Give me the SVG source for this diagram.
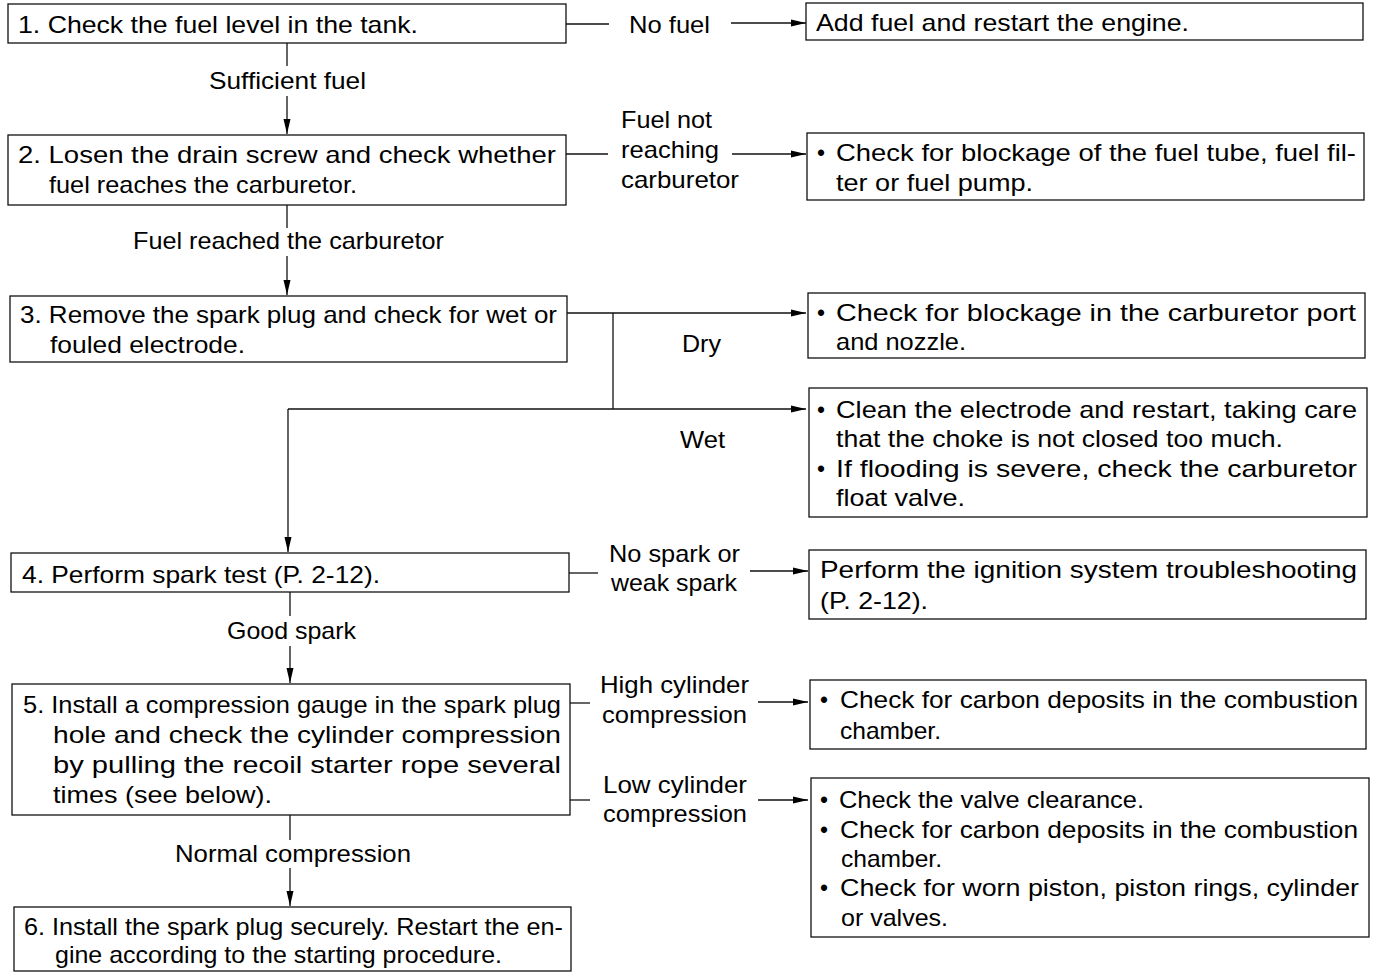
<svg xmlns="http://www.w3.org/2000/svg" width="1379" height="973" viewBox="0 0 1379 973">
<style>
text{font-family:"Liberation Sans","Arial",sans-serif;font-size:24px;fill:#000}
rect{fill:#fff;stroke:#111;stroke-width:1.3}
.c line{stroke:#111;stroke-width:1.3}
</style>
<defs>
<marker id="ah" markerUnits="userSpaceOnUse" markerWidth="16" markerHeight="8" refX="15" refY="4" orient="auto">
<path d="M0,0.5 L15,4 L0,7.5 z" fill="#000"/>
</marker>
</defs>
<rect x="0" y="0" width="1379" height="973" style="stroke:none;fill:#fff"/>
<g class="c" id="connectors">
<line x1="566" y1="24" x2="609" y2="24"/>
<line x1="731" y1="23" x2="806" y2="23" marker-end="url(#ah)"/>
<line x1="287" y1="43" x2="287" y2="66"/>
<line x1="287" y1="96" x2="287" y2="134" marker-end="url(#ah)"/>
<line x1="566" y1="154" x2="608" y2="154"/>
<line x1="732" y1="154" x2="806" y2="154" marker-end="url(#ah)"/>
<line x1="287" y1="205" x2="287" y2="228"/>
<line x1="287" y1="256" x2="287" y2="295" marker-end="url(#ah)"/>
<line x1="567" y1="313" x2="806" y2="313" marker-end="url(#ah)"/>
<line x1="613" y1="313" x2="613" y2="409"/>
<line x1="288" y1="409" x2="806" y2="409" marker-end="url(#ah)"/>
<line x1="288" y1="409" x2="288" y2="552" marker-end="url(#ah)"/>
<line x1="569" y1="573" x2="598" y2="573"/>
<line x1="750" y1="571" x2="808" y2="571" marker-end="url(#ah)"/>
<line x1="290" y1="592" x2="290" y2="616"/>
<line x1="290" y1="646" x2="290" y2="683" marker-end="url(#ah)"/>
<line x1="570" y1="703" x2="590" y2="703"/>
<line x1="758" y1="702" x2="808" y2="702" marker-end="url(#ah)"/>
<line x1="570" y1="800" x2="590" y2="800"/>
<line x1="758" y1="800" x2="808" y2="800" marker-end="url(#ah)"/>
<line x1="290" y1="815" x2="290" y2="840"/>
<line x1="290" y1="868" x2="290" y2="906" marker-end="url(#ah)"/>
<text x="629" y="33" textLength="81" lengthAdjust="spacingAndGlyphs">No fuel</text>
<text x="209" y="89" textLength="157" lengthAdjust="spacingAndGlyphs">Sufficient fuel</text>
<text x="621" y="128" textLength="91" lengthAdjust="spacingAndGlyphs">Fuel not</text>
<text x="621" y="158" textLength="98" lengthAdjust="spacingAndGlyphs">reaching</text>
<text x="621" y="188" textLength="118" lengthAdjust="spacingAndGlyphs">carburetor</text>
<text x="133" y="249" textLength="311" lengthAdjust="spacingAndGlyphs">Fuel reached the carburetor</text>
<text x="682" y="352" textLength="39" lengthAdjust="spacingAndGlyphs">Dry</text>
<text x="680" y="448" textLength="45" lengthAdjust="spacingAndGlyphs">Wet</text>
<text x="609" y="562" textLength="131" lengthAdjust="spacingAndGlyphs">No spark or</text>
<text x="611" y="591" textLength="126" lengthAdjust="spacingAndGlyphs">weak spark</text>
<text x="227" y="639" textLength="129" lengthAdjust="spacingAndGlyphs">Good spark</text>
<text x="600" y="693" textLength="149" lengthAdjust="spacingAndGlyphs">High cylinder</text>
<text x="602" y="723" textLength="145" lengthAdjust="spacingAndGlyphs">compression</text>
<text x="603" y="793" textLength="144" lengthAdjust="spacingAndGlyphs">Low cylinder</text>
<text x="603" y="822" textLength="144" lengthAdjust="spacingAndGlyphs">compression</text>
<text x="175" y="862" textLength="236" lengthAdjust="spacingAndGlyphs">Normal compression</text>
</g>
<g id="step1">
<rect x="8" y="4" width="558" height="39"/>
<text x="18" y="33" textLength="400" lengthAdjust="spacingAndGlyphs">1. Check the fuel level in the tank.</text>
</g>
<g id="resultA">
<rect x="806" y="3" width="557" height="37"/>
<text x="816" y="31" textLength="373" lengthAdjust="spacingAndGlyphs">Add fuel and restart the engine.</text>
</g>
<g id="step2">
<rect x="8" y="135" width="558" height="70"/>
<text x="18" y="163" textLength="538" lengthAdjust="spacingAndGlyphs">2. Losen the drain screw and check whether</text>
<text x="49" y="193" textLength="308" lengthAdjust="spacingAndGlyphs">fuel reaches the carburetor.</text>
</g>
<g id="resultB">
<rect x="807" y="133" width="557" height="67"/>
<text x="817" y="161" textLength="8" lengthAdjust="spacingAndGlyphs">•</text>
<text x="836" y="161" textLength="520" lengthAdjust="spacingAndGlyphs">Check for blockage of the fuel tube, fuel fil-</text>
<text x="836" y="191" textLength="197" lengthAdjust="spacingAndGlyphs">ter or fuel pump.</text>
</g>
<g id="step3">
<rect x="10" y="296" width="557" height="66"/>
<text x="20" y="323" textLength="537" lengthAdjust="spacingAndGlyphs">3. Remove the spark plug and check for wet or</text>
<text x="50" y="353" textLength="195" lengthAdjust="spacingAndGlyphs">fouled electrode.</text>
</g>
<g id="resultC">
<rect x="808" y="293" width="557" height="65"/>
<text x="817" y="321" textLength="8" lengthAdjust="spacingAndGlyphs">•</text>
<text x="836" y="321" textLength="520" lengthAdjust="spacingAndGlyphs">Check for blockage in the carburetor port</text>
<text x="836" y="350" textLength="130" lengthAdjust="spacingAndGlyphs">and nozzle.</text>
</g>
<g id="resultD">
<rect x="809" y="388" width="558" height="129"/>
<text x="817" y="418" textLength="8" lengthAdjust="spacingAndGlyphs">•</text>
<text x="836" y="418" textLength="521" lengthAdjust="spacingAndGlyphs">Clean the electrode and restart, taking care</text>
<text x="836" y="447" textLength="447" lengthAdjust="spacingAndGlyphs">that the choke is not closed too much.</text>
<text x="817" y="477" textLength="8" lengthAdjust="spacingAndGlyphs">•</text>
<text x="836" y="477" textLength="521" lengthAdjust="spacingAndGlyphs">If flooding is severe, check the carburetor</text>
<text x="836" y="506" textLength="129" lengthAdjust="spacingAndGlyphs">float valve.</text>
</g>
<g id="step4">
<rect x="11" y="553" width="558" height="39"/>
<text x="22" y="583" textLength="358" lengthAdjust="spacingAndGlyphs">4. Perform spark test (P. 2-12).</text>
</g>
<g id="resultE">
<rect x="809" y="550" width="557" height="69"/>
<text x="820" y="578" textLength="537" lengthAdjust="spacingAndGlyphs">Perform the ignition system troubleshooting</text>
<text x="820" y="609" textLength="108" lengthAdjust="spacingAndGlyphs">(P. 2-12).</text>
</g>
<g id="step5">
<rect x="12" y="684" width="558" height="131"/>
<text x="23" y="713" textLength="538" lengthAdjust="spacingAndGlyphs">5. Install a compression gauge in the spark plug</text>
<text x="53" y="743" textLength="508" lengthAdjust="spacingAndGlyphs">hole and check the cylinder compression</text>
<text x="53" y="773" textLength="508" lengthAdjust="spacingAndGlyphs">by pulling the recoil starter rope several</text>
<text x="53" y="803" textLength="219" lengthAdjust="spacingAndGlyphs">times (see below).</text>
</g>
<g id="resultF">
<rect x="810" y="680" width="556" height="69"/>
<text x="820" y="708" textLength="8" lengthAdjust="spacingAndGlyphs">•</text>
<text x="840" y="708" textLength="518" lengthAdjust="spacingAndGlyphs">Check for carbon deposits in the combustion</text>
<text x="840" y="739" textLength="101" lengthAdjust="spacingAndGlyphs">chamber.</text>
</g>
<g id="resultG">
<rect x="811" y="778" width="558" height="159"/>
<text x="820" y="808" textLength="8" lengthAdjust="spacingAndGlyphs">•</text>
<text x="839" y="808" textLength="305" lengthAdjust="spacingAndGlyphs">Check the valve clearance.</text>
<text x="820" y="838" textLength="8" lengthAdjust="spacingAndGlyphs">•</text>
<text x="840" y="838" textLength="518" lengthAdjust="spacingAndGlyphs">Check for carbon deposits in the combustion</text>
<text x="841" y="867" textLength="101" lengthAdjust="spacingAndGlyphs">chamber.</text>
<text x="820" y="896" textLength="8" lengthAdjust="spacingAndGlyphs">•</text>
<text x="840" y="896" textLength="519" lengthAdjust="spacingAndGlyphs">Check for worn piston, piston rings, cylinder</text>
<text x="841" y="926" textLength="107" lengthAdjust="spacingAndGlyphs">or valves.</text>
</g>
<g id="step6">
<rect x="14" y="907" width="557" height="64"/>
<text x="24" y="935" textLength="539" lengthAdjust="spacingAndGlyphs">6. Install the spark plug securely. Restart the en-</text>
<text x="55" y="963" textLength="447" lengthAdjust="spacingAndGlyphs">gine according to the starting procedure.</text>
</g>
</svg>
